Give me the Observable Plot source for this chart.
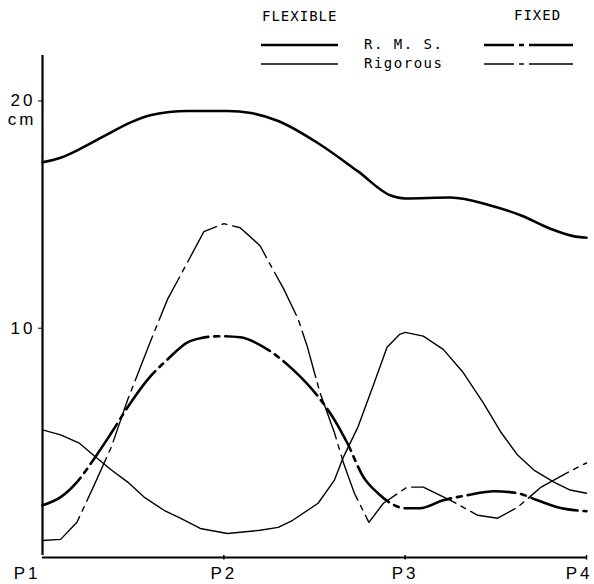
<!DOCTYPE html>
<html>
<head>
<meta charset="utf-8">
<script src="https://cdn.jsdelivr.net/npm/d3@7"></script>
<script src="https://cdn.jsdelivr.net/npm/@observablehq/plot@0.6"></script>
<style>
  html, body { margin: 0; padding: 0; background: #fff; }
  #wrap { position: relative; width: 594px; height: 584px; overflow: hidden; }
  #legend { position: absolute; left: 0; top: 0; }
</style>
</head>
<body>
<div id="wrap"></div>
<script>
// ---- data (position along the line P1..P4 as 0..3, value in cm) ----
const pointLabels = ["P1", "P2", "P3", "P4"];
const pointPos = [0, 1, 2, 3];
const yTicks = [10, 20];
const yUnit = "cm";

const rmsFlexT = [0, 0.10, 0.21, 0.35, 0.49, 0.60, 0.80, 1.02, 1.15, 1.30, 1.52, 1.74, 1.92, 2.0, 2.25, 2.47, 2.64, 2.80, 2.94, 3.0];
const rmsFlexV = [17.3, 17.5, 17.9, 18.5, 19.07, 19.38, 19.56, 19.56, 19.47, 19.12, 18.14, 16.9, 15.84, 15.71, 15.75, 15.4, 14.96, 14.38, 14.03, 13.98];

const rigFlexT = [0, 0.10, 0.20, 0.28, 0.38, 0.47, 0.56, 0.67, 0.76, 0.87, 1.02, 1.20, 1.30, 1.38, 1.52, 1.61, 1.66, 1.74, 1.83, 1.90, 1.97, 2.0, 2.10, 2.21, 2.32, 2.43, 2.53, 2.62, 2.71, 2.82, 2.91, 3.0];
const rigFlexV = [5.53, 5.31, 4.96, 4.42, 3.76, 3.23, 2.57, 1.99, 1.64, 1.19, 0.97, 1.11, 1.24, 1.55, 2.3, 3.32, 4.34, 5.66, 7.61, 9.16, 9.73, 9.82, 9.65, 9.07, 8.05, 6.73, 5.4, 4.42, 3.76, 3.23, 2.88, 2.74];

const rmsFixT = [0, 0.10, 0.19, 0.28, 0.38, 0.49, 0.58, 0.69, 0.80, 0.87, 0.98, 1.09, 1.24, 1.38, 1.52, 1.61, 1.68, 1.77, 1.85, 1.92, 2.0, 2.08, 2.21, 2.34, 2.49, 2.62, 2.73, 2.84, 3.0];
const rmsFixV = [2.21, 2.57, 3.23, 4.2, 5.4, 6.77, 7.74, 8.63, 9.38, 9.56, 9.65, 9.6, 9.07, 8.19, 6.99, 5.97, 4.96, 3.45, 2.74, 2.3, 2.08, 2.08, 2.43, 2.65, 2.83, 2.74, 2.43, 2.12, 1.95];

const rigFixT = [0, 0.10, 0.19, 0.28, 0.38, 0.47, 0.60, 0.69, 0.78, 0.89, 1.0, 1.09, 1.20, 1.26, 1.33, 1.41, 1.46, 1.53, 1.61, 1.66, 1.72, 1.80, 1.88, 1.97, 2.01, 2.10, 2.25, 2.40, 2.51, 2.62, 2.75, 2.90, 3.0];
const rigFixV = [0.66, 0.71, 1.46, 3.01, 4.78, 6.86, 9.51, 11.28, 12.61, 14.25, 14.6, 14.42, 13.63, 12.74, 11.73, 10.4, 9.2, 7.17, 5.4, 4.07, 2.74, 1.46, 2.3, 2.79, 3.01, 3.01, 2.43, 1.77, 1.64, 2.12, 3.01, 3.67, 4.07];

const legendGroups = ["FLEXIBLE", "FIXED"];
const legendRows = ["R. M. S.", "Rigorous"];

// ---- build tables ----
const toRows = (t, v) => t.map((x, i) => ({t: x, v: v[i]}));
const rmsFlex = toRows(rmsFlexT, rmsFlexV);
const rigFlex = toRows(rigFlexT, rigFlexV);
const rmsFix = toRows(rmsFixT, rmsFixV);
const rigFix = toRows(rigFixT, rigFixV);
const xLabels = pointLabels.map((s, i) => ({s, p: pointPos[i]}));

const thick = 2.6, thin = 1.4;
const fixedDash = "48,6,5,6";

const chart = Plot.plot({
  width: 594,
  height: 584,
  marginLeft: 42,
  marginRight: 8,
  marginTop: 55,
  marginBottom: 29,
  x: {type: "linear", domain: [0, 3], axis: null},
  y: {type: "linear", domain: [0, 22], ticks: yTicks, tickSize: 4, tickPadding: 3, label: null, tickFormat: d => String(d)},
  style: {fontFamily: "Liberation Sans, Arial, sans-serif", fontSize: "17px", letterSpacing: "3px", color: "#000", background: "#fff"},
  marks: [
    Plot.ruleX([0], {y1: 0, y2: 22, stroke: "#000", strokeWidth: 2.2}),
    Plot.ruleY([0], {x1: 0, x2: 3, stroke: "#000", strokeWidth: 2, dy: 2}),
    Plot.ruleX(xLabels.slice(1), {x: "p", y1: 0, y2: -0.2, stroke: "#000", strokeWidth: 1.5}),
    Plot.text(xLabels.slice(1, 3), {x: "p", y: 0, text: "s", dy: 18, fontSize: 17, textAnchor: "middle"}),
    Plot.text(xLabels.slice(0, 1), {x: "p", y: 0, text: "s", dy: 18, dx: -2, fontSize: 17, textAnchor: "end"}),
    Plot.text(xLabels.slice(3), {x: "p", y: 0, text: "s", dy: 18, dx: 6, fontSize: 17, textAnchor: "end"}),
    Plot.text([yUnit], {x: 0, y: yTicks[1], text: d => d, dy: 19, dx: -6, fontSize: 17, textAnchor: "end"}),
    Plot.line(rmsFlex, {x: "t", y: "v", stroke: "#000", strokeWidth: thick, curve: "monotone-x"}),
    Plot.line(rigFlex, {x: "t", y: "v", stroke: "#000", strokeWidth: thin, curve: "linear"}),
    Plot.line(rmsFix, {x: "t", y: "v", stroke: "#000", strokeWidth: thick, strokeDasharray: fixedDash, curve: "monotone-x"}),
    Plot.line(rigFix, {x: "t", y: "v", stroke: "#000", strokeWidth: thin, strokeDasharray: fixedDash, curve: "linear"})
  ]
});

const wrap = document.getElementById("wrap");
wrap.appendChild(chart);

// ---- legend overlay ----
const lg = d3.select(wrap).append("svg")
  .attr("id", "legend").attr("width", 594).attr("height", 80)
  .style("font-family", "DejaVu Sans Mono, monospace");

lg.append("text").attr("x", 262).attr("y", 21).attr("font-size", 14).attr("letter-spacing", "1px").text(legendGroups[0]);
lg.append("text").attr("x", 514).attr("y", 20).attr("font-size", 14).attr("letter-spacing", "1px").text(legendGroups[1]);

legendRows.forEach((label, i) => {
  const y = 45 + i * 19;
  const w = i === 0 ? thick : thin;
  lg.append("line").attr("x1", 261).attr("x2", 338).attr("y1", y).attr("y2", y)
    .attr("stroke", "#000").attr("stroke-width", w);
  lg.append("line").attr("x1", 484).attr("x2", 573).attr("y1", y).attr("y2", y)
    .attr("stroke", "#000").attr("stroke-width", w).attr("stroke-dasharray", "30,5,5,5,200");
  lg.append("text").attr("x", 364).attr("y", y + 4).attr("font-size", 14).attr("letter-spacing", "1.5px").text(label);
});
</script>
</body>
</html>
